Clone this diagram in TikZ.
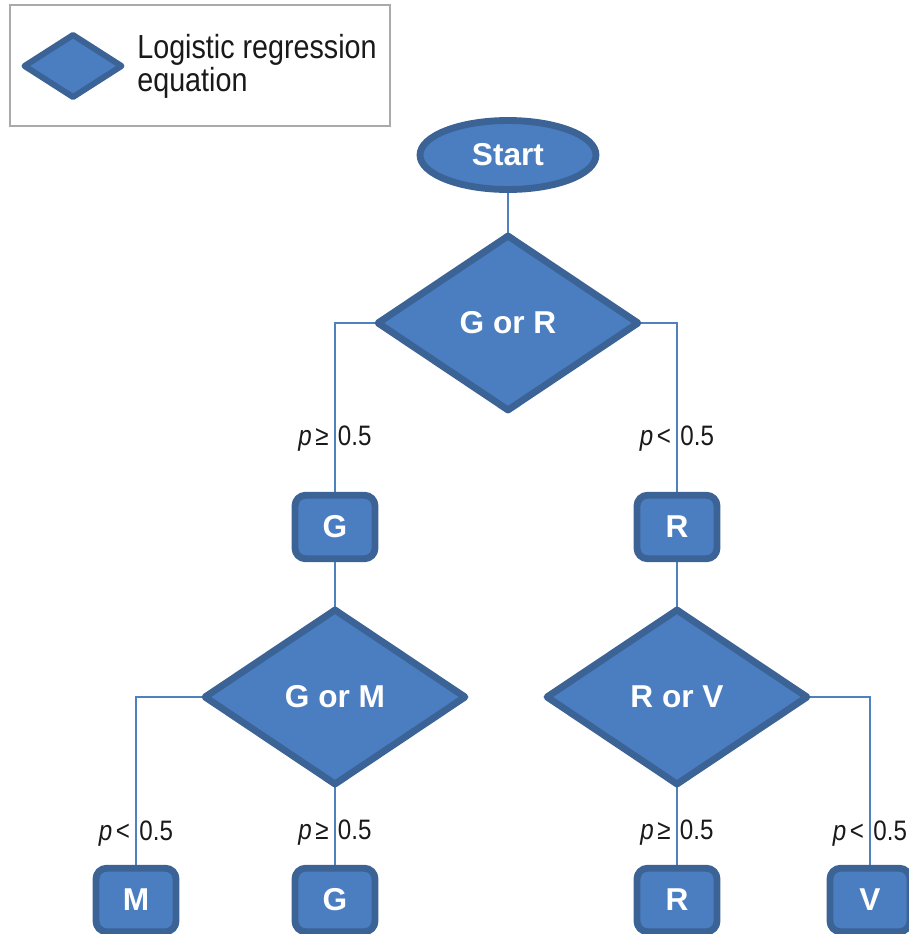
\documentclass[tikz,border=0pt]{standalone}
\usepackage{fontspec}
\setmainfont{Liberation Sans}
\newfontfamily\narrowfont{Liberation Sans}[FakeStretch=0.86]
\usepackage{tikz}
\usetikzlibrary{shapes.geometric}
\usetikzlibrary{backgrounds}
\usetikzlibrary{positioning}

\definecolor{fillblue}{RGB}{74,126,193}
\definecolor{edgeblue}{RGB}{60,99,150}
\definecolor{linkblue}{RGB}{79,129,189}
\definecolor{framegray}{RGB}{170,170,170}

\begin{document}
\begin{tikzpicture}
      [x=0.02cm, y=-0.02cm,
       every node part/.style={align=center},
       shape base/.style={draw=edgeblue, fill=fillblue, line width=3.9pt,
         line join=round, inner sep=0pt, outer sep=0pt, text=white,
         font=\fontsize{18}{20}\selectfont\bfseries},
       startbox/.style={shape base, ellipse, minimum width=3.52cm, minimum height=1.38cm},
       decision/.style={shape base, diamond, minimum width=5.2cm, minimum height=3.48cm},
       classbox/.style={shape base, rectangle, rounded corners=6pt,
         minimum width=1.6cm, minimum height=1.27cm},
       link/.style={draw=linkblue, line width=1.2pt},
       cond/.style={font=\narrowfont\fontsize{16}{18}\selectfont, text=black!90, inner sep=0pt}]
      \useasboundingbox (0, 0) rectangle (909, 934);

      % legend
      \draw [framegray, line width=0.8pt] (10, 5) rectangle (390, 126);
      \node (keyshape) [shape base, diamond, minimum width=1.94cm, minimum height=1.24cm,
        line width=3.4pt] at (73, 66) {};
      \node (keytext) [anchor=west, align=left, inner sep=0pt,
        font=\narrowfont\fontsize{19}{15.8}\selectfont, text=black!90]
        at (137, 66) {Logistic regression\\equation};

      % tree
      \node (start) [startbox] at (508, 155) {Start};
      \node (gr) [decision] at (508, 323) {G or R};
      \node (g1) [classbox] at (335, 527) {G};
      \node (r1) [classbox] at (677, 527) {R};
      \node (gm) [decision] at (335, 697) {G or M};
      \node (rv) [decision] at (677, 697) {R or V};
      \node (m2) [classbox] at (136, 900) {M};
      \node (g2) [classbox] at (335, 900) {G};
      \node (r2) [classbox] at (677, 900) {R};
      \node (v2) [classbox] at (870, 900) {V};

      \begin{scope}[on background layer]
        \draw [link] (start) -- (gr);
        \draw [link] (gr.west) -| (g1)
          node (c1) [cond, pos=0.835] {\textit{p}\kern2pt≥\,\,0.5};
        \draw [link] (gr.east) -| (r1)
          node (c2) [cond, pos=0.835] {\textit{p}\kern2pt<\,\,0.5};
        \draw [link] (g1) -- (gm);
        \draw [link] (r1) -- (rv);
        \draw [link] (gm.west) -| (m2)
          node (c3) [cond, pos=0.9] {\textit{p}\kern2pt<\,\,0.5};
        \draw [link] (gm) -- (g2)
          node (c4) [cond, pos=0.58] {\textit{p}\kern2pt≥\,\,0.5};
        \draw [link] (rv) -- (r2)
          node (c5) [cond, pos=0.58] {\textit{p}\kern2pt≥\,\,0.5};
        \draw [link] (rv.east) -| (v2)
          node (c6) [cond, pos=0.9] {\textit{p}\kern2pt<\,\,0.5};
      \end{scope}
    \end{tikzpicture}
\end{document}
